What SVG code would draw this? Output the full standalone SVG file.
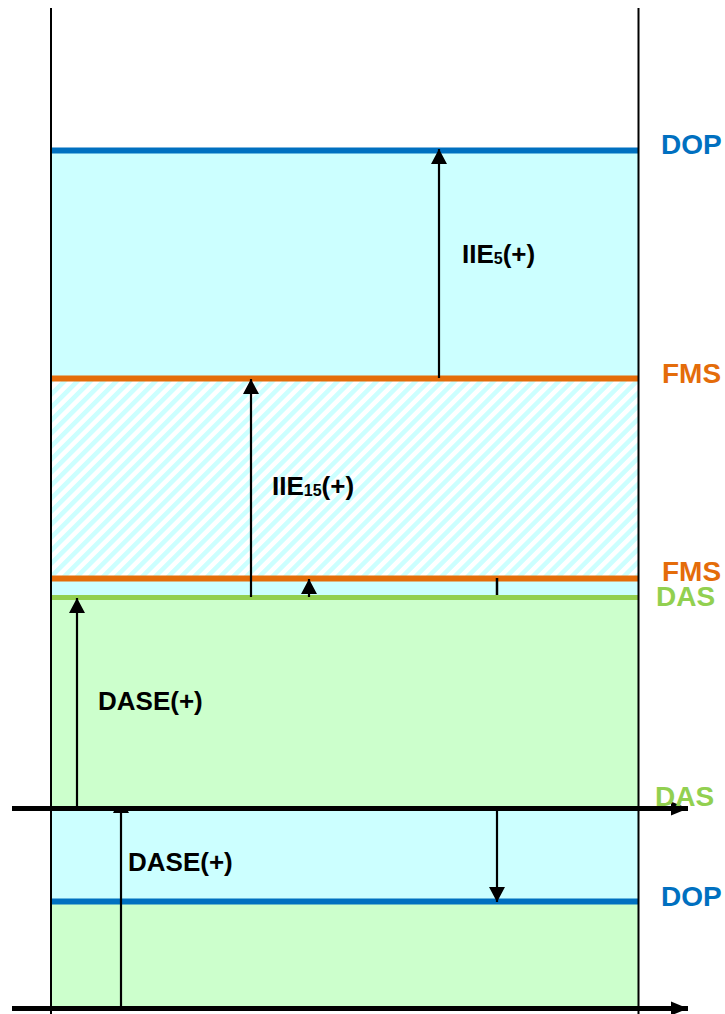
<svg xmlns="http://www.w3.org/2000/svg" width="725" height="1014" viewBox="0 0 725 1014">
<style>
.fc{fill:#CCFFFF}
.fg{fill:#CCFFCC}
.ln{stroke-width:6;fill:none}
.arr{stroke:#000;stroke-width:2.2;fill:none;marker-end:url(#ah)}
.ax{stroke:#000;stroke-width:5;fill:none;marker-end:url(#axh)}
.bd{stroke:#000;stroke-width:2;fill:none}
.lb{font-family:"Liberation Sans",Arial,sans-serif;font-weight:bold;font-size:26px;fill:#000}
.sub{font-size:16px}
.rl{font-family:"Liberation Sans",Arial,sans-serif;font-weight:bold;font-size:28px}
</style>
<defs>
<pattern id="hatch" patternUnits="userSpaceOnUse" width="9.2" height="9.2" patternTransform="rotate(45)">
<rect width="9.2" height="9.2" fill="#FFFFFF"/>
<rect width="4.6" height="9.2" fill="#CCFFFF"/>
</pattern>
<marker id="ah" markerUnits="userSpaceOnUse" markerWidth="16" markerHeight="16" refX="15" refY="8" orient="auto">
<path d="M0,0 L15,8 L0,16 Z" fill="#000"/>
</marker>
<marker id="axh" markerUnits="userSpaceOnUse" markerWidth="18" markerHeight="16" refX="17" refY="8" orient="auto">
<path d="M0,1 L17,8 L0,15 Z" fill="#000"/>
</marker>
<clipPath id="below"><rect x="0" y="808" width="725" height="206"/></clipPath>
</defs>
<g id="bands">
<rect class="fc" x="52" y="151" width="586" height="227"/>
<rect fill="url(#hatch)" x="52" y="378" width="586" height="200"/>
<rect class="fc" x="52" y="578" width="586" height="20"/>
<rect class="fg" x="52" y="598" width="586" height="210"/>
<rect class="fc" x="52" y="808" width="586" height="93"/>
<rect class="fg" x="52" y="901" width="586" height="107"/>
</g>
<g id="levels">
<line class="ln" stroke="#0070C0" x1="52" y1="150.5" x2="638" y2="150.5"/>
<line class="ln" stroke="#E46C0A" x1="52" y1="378.5" x2="638" y2="378.5"/>
<line class="ln" stroke="#E46C0A" x1="52" y1="578.5" x2="638" y2="578.5"/>
<line stroke="#92D050" stroke-width="5" x1="52" y1="597.5" x2="638" y2="597.5"/>
<line class="ln" stroke="#0070C0" x1="52" y1="901.5" x2="638" y2="901.5"/>
</g>
<g id="connectors">
<line class="arr" x1="439" y1="378" x2="439" y2="149"/>
<line class="arr" x1="251" y1="597" x2="251" y2="379"/>
<line class="arr" x1="309" y1="597" x2="309" y2="579"/>
<line stroke="#000" stroke-width="2.5" x1="497" y1="578" x2="497" y2="595"/>
<line class="arr" x1="77" y1="808" x2="77" y2="598"/>
<line class="arr" x1="497" y1="808" x2="497" y2="902"/>
<line class="arr" clip-path="url(#below)" x1="121" y1="1008" x2="121" y2="798"/>
</g>
<g id="axes">
<line class="ax" x1="12" y1="808.5" x2="688" y2="808.5"/>
<line class="ax" x1="12" y1="1008.5" x2="688" y2="1008.5"/>
</g>
<g id="borders">
<line class="bd" x1="51" y1="8" x2="51" y2="1014"/>
<line class="bd" x1="638.5" y1="8" x2="638.5" y2="1014"/>
</g>
<g id="labels">
<text class="lb" x="462" y="263">IIE<tspan class="sub" dy="1">5</tspan><tspan dy="-1">(+)</tspan></text>
<text class="lb" x="272" y="495">IIE<tspan class="sub" dy="1">15</tspan><tspan dy="-1">(+)</tspan></text>
<text class="lb" x="98" y="710">DASE(+)</text>
<text class="lb" x="128" y="871">DASE(+)</text>
</g>
<g id="level-names">
<text class="rl" fill="#0070C0" x="661" y="154">DOP</text>
<text class="rl" fill="#E46C0A" x="662" y="383">FMS</text>
<text class="rl" fill="#E46C0A" x="662" y="581">FMS</text>
<text class="rl" fill="#92D050" x="656" y="606">DAS</text>
<text class="rl" fill="#92D050" x="655" y="806">DAS</text>
<text class="rl" fill="#0070C0" x="661" y="906">DOP</text>
</g>
</svg>
